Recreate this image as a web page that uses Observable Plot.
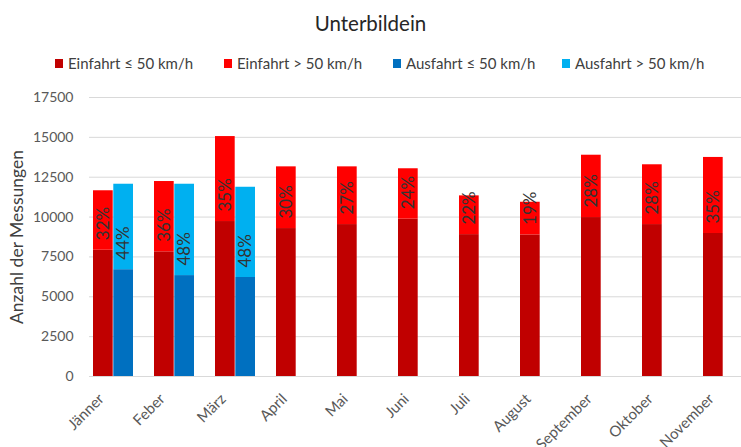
<!DOCTYPE html>
<html><head><meta charset="utf-8">
<script src="https://cdn.jsdelivr.net/npm/d3@7"></script>
<script src="https://cdn.jsdelivr.net/npm/@observablehq/plot@0.6"></script>
<style>
body{margin:0;background:#fff;font-family:Lato, "Noto Sans", sans-serif;}
#title{height:46px;line-height:46px;text-align:center;font-size:20.5px;color:#262626;}
#legend{height:34px;display:flex;align-items:center;padding-left:55px;font-size:15px;color:#404040;}
.item{width:169px;display:flex;align-items:center;white-space:nowrap;}
.sw{width:8px;height:9px;margin-right:5px;flex:none;}
#chart g[aria-label="x-axis tick label"]{font-size:15px;}
#chart g[aria-label="y-axis tick label"]{font-size:14px;}
</style></head>
<body>
<div id="title">Unterbildein</div>
<div id="legend"></div>
<div id="chart"></div>
<script>
const months = ["Jänner","Feber","März","April","Mai","Juni","Juli","August","September","Oktober","November"];
const einLe50 = [7920, 7820, 9720, 9280, 9530, 9870, 8900, 8880, 9970, 9530, 8970];
const einGt50 = [3730, 4410, 5330, 3870, 3620, 3160, 2430, 2050, 3910, 3750, 4770];
const einPct = ["32%","36%","35%","30%","27%","24%","22%","19%","28%","28%","35%"];
const ausMonths = ["Jänner","Feber","März"];
const ausLe50 = [6700, 6330, 6210];
const ausGt50 = [5360, 5730, 5660];
const ausPct = ["44%","48%","48%"];
const seriesNames = ["Einfahrt ≤ 50 km/h","Einfahrt > 50 km/h","Ausfahrt ≤ 50 km/h","Ausfahrt > 50 km/h"];
const seriesColors = ["#C00000","#FF0000","#0070C0","#00B0F0"];
const yTicks = [0, 2500, 5000, 7500, 10000, 12500, 15000, 17500];
const yLabel = "Anzahl der Messungen";

// legend
const legend = document.getElementById("legend");
seriesNames.forEach((s, i) => {
  const it = document.createElement("div");
  it.className = "item";
  it.innerHTML = `<span class="sw" style="background:${seriesColors[i]}"></span><span>${s}</span>`;
  legend.appendChild(it);
});

const einRows = months.flatMap((m, i) => [
  {month: m, series: seriesNames[0], value: einLe50[i]},
  {month: m, series: seriesNames[1], value: einGt50[i]}
]);
const ausRows = ausMonths.flatMap((m, i) => [
  {month: m, series: seriesNames[2], value: ausLe50[i]},
  {month: m, series: seriesNames[3], value: ausGt50[i]}
]);
const einLabels = months.map((m, i) => ({month: m, base: einLe50[i], pct: einPct[i]}));
const ausLabels = ausMonths.map((m, i) => ({month: m, base: ausLe50[i], pct: ausPct[i]}));

const chart = Plot.plot({
  width: 741,
  height: 367,
  marginLeft: 89,
  marginRight: 0,
  marginTop: 17,
  marginBottom: 71,
  style: {fontFamily: "Lato, 'Noto Sans', sans-serif", background: "#fff", overflow: "visible"},
  x: {domain: months, range: [89.2, 747.8], paddingInner: 0.343, paddingOuter: 0, label: null},
  y: {domain: [0, 17500], label: null},
  color: {domain: seriesNames, range: seriesColors},
  marks: [
    Plot.ruleY(yTicks, {stroke: "#d9d9d9", strokeWidth: 1}),
    Plot.barY(einRows, {x: "month", y: "value", fill: "series", insetRight: 20.3}),
    Plot.barY(ausRows, {x: "month", y: "value", fill: "series", insetLeft: 20.3}),
    Plot.text(einLabels, {x: "month", y: "base", text: "pct", rotate: -90, textAnchor: "start", lineAnchor: "middle", dx: -10.15, dy: -10, fill: "#333", fontSize: 17}),
    Plot.text(ausLabels, {x: "month", y: "base", text: "pct", rotate: -90, textAnchor: "start", lineAnchor: "middle", dx: 10.15, dy: -10, fill: "#333", fontSize: 17}),
    Plot.axisY(yTicks, {tickSize: 0, tickPadding: 16, fontSize: 14, color: "#595959", label: null, tickFormat: d => String(d)}),
    Plot.axisX({tickSize: 0, tickPadding: 20, dx: -12, tickRotate: -45, fontSize: 15, color: "#595959", label: null}),
    Plot.text([yLabel], {frameAnchor: "left", textAnchor: "middle", dx: -72, rotate: -90, fontSize: 17.5, fill: "#404040"})
  ]
});
document.getElementById("chart").appendChild(chart);
</script>
</body></html>
